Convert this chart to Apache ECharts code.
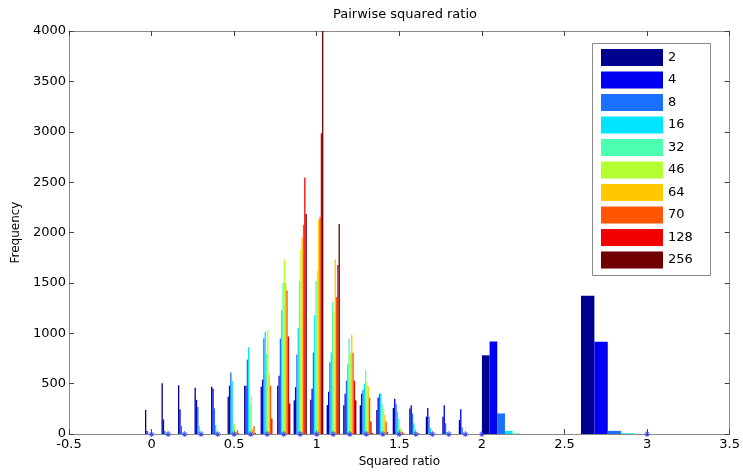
<!DOCTYPE html>
<html>
<head>
<meta charset="utf-8">
<script src="https://cdn.jsdelivr.net/npm/echarts@6/dist/echarts.min.js"></script>
<style>
html,body{margin:0;padding:0;background:#fff;}
#chart{width:743px;height:473px;}
</style>
</head>
<body>
<div id="chart"></div>
<script>
// Bin positions (squared ratio)
const bins = [0,0.1,0.2,0.3,0.4,0.5,0.6,0.7,0.8,0.9,1.0,1.1,1.2,1.3,1.4,1.5,1.6,1.7,1.8,1.9,2.0,2.6];
// Series names (legend)
const seriesNames = ['2','4','8','16','32','46','64','70','128','256'];
// Frequencies per series, one value per bin
const s2   = [240,505,485,460,470,370,480,470,480,335,340,290,286,286,240,260,254,173,173,140,782,1372];
const s4   = [30,145,245,340,450,480,480,540,580,466,450,420,400,400,362,350,286,260,286,247,919,916];
const s8   = [5,30,80,270,255,612,740,950,950,790,810,712,530,440,400,300,205,173,107,68,205,32];
const s16  = [0,5,10,80,90,527,862,1015,1230,1053,1180,810,693,500,405,224,107,59,15,10,32,8];
const s32  = [0,0,2,10,15,100,300,800,1500,1522,1520,1311,946,629,300,150,59,20,5,0,8,0];
const s46  = [0,0,0,0,2,107,383,1030,1734,1834,1620,1200,800,520,250,60,20,10,0,0,0,0];
const s64  = [0,0,0,0,0,20,50,600,1500,1950,2127,1734,985,472,189,49,10,5,0,0,0,0];
const s70  = [0,0,0,0,0,40,80,481,1424,2077,2156,1359,807,362,124,20,10,5,0,0,0,0];
const s128 = [0,0,0,0,0,5,10,156,969,2546,2985,1677,530,124,20,5,0,0,0,0,0,0];
const s256 = [0,0,0,0,0,0,0,0,303,2185,4000,2086,335,10,0,0,0,0,0,0,0,0];
// Marker positions on the baseline
const markerX = [0,0.1,0.2,0.3,0.4,0.5,0.6,0.7,0.8,0.9,1.0,1.1,1.2,1.3,1.4,1.5,1.6,1.7,1.8,1.9,2.0,3.0];
// Tick labels
const yTicks = [0,500,1000,1500,2000,2500,3000,3500,4000];
const xTicks = [-0.5,0,0.5,1,1.5,2,2.5,3,3.5];

const allSeries = [s2,s4,s8,s16,s32,s46,s64,s70,s128,s256];
const colors = ['#00008f','#0000f5','#1a70ff','#00e4ff','#4cffb0','#b4ff30','#ffc800','#ff5500','#f00000','#700000'];
const FONT = 'DejaVu Sans, Liberation Sans, sans-serif';

function renderBar(params, api) {
  const x = api.value(0), v = api.value(1);
  const i = params.seriesIndex;
  let left, w;
  if (x < 1.95) { w = 0.008; left = x - 0.04 + i * w; }
  else if (x < 2.3) { w = 0.0465; left = x + i * w; }
  else { w = 0.081; left = x + i * w; }
  const p0 = api.coord([left, v]);
  const p1 = api.coord([left + w, 0]);
  return {
    type: 'rect',
    shape: { x: p0[0], y: p0[1], width: p1[0] - p0[0], height: p1[1] - p0[1] },
    style: { fill: api.visual('color') }
  };
}

const series = allSeries.map((arr, i) => ({
  name: seriesNames[i],
  type: 'custom',
  renderItem: renderBar,
  itemStyle: { color: colors[i] },
  encode: { x: 0, y: 1 },
  clip: true,
  data: bins.map((b, k) => [b, arr[k]])
}));

series.push({
  name: 'markers',
  type: 'scatter',
  symbol: 'path://M8.5,0 L11.5,0 L11.5,20 L8.5,20 Z M0,8.5 L20,8.5 L20,11.5 L0,11.5 Z M2,4 L4,2 L18,16 L16,18 Z M16,2 L18,4 L4,18 L2,16 Z',
  symbolSize: 6,
  itemStyle: { color: '#2a2aff' },
  z: 5,
  clip: false,
  data: markerX.map(x => [x, 0])
});

const axisLineStyle = { color: '#8a8a8a', width: 1 };
const plain = v => String(v);
const chart = echarts.init(document.getElementById('chart'), null, { renderer: 'canvas' });
chart.setOption({
  animation: false,
  backgroundColor: '#fff',
  title: {
    text: 'Pairwise squared ratio',
    left: 400, top: 3, textAlign: 'center',
    textStyle: { fontFamily: FONT, fontSize: 13, fontWeight: 'normal', color: '#000' }
  },
  grid: { left: 69, right: 12, top: 31, bottom: 32, containLabel: false },
  legend: {
    orient: 'vertical',
    left: 601, top: 49,
    padding: 0,
    itemWidth: 62, itemHeight: 17, itemGap: 5.5,
    icon: 'rect',
    data: seriesNames,
    textStyle: { fontFamily: FONT, fontSize: 13, color: '#000' }
  },
  graphic: [{
    type: 'rect', z: 3,
    shape: { x: 592.5, y: 43.5, width: 118, height: 232 },
    style: { fill: '#fff', stroke: '#8a8a8a', lineWidth: 1 }
  }],
  xAxis: [{
    type: 'value', min: xTicks[0], max: xTicks[xTicks.length - 1], interval: 0.5,
    position: 'bottom',
    name: 'Squared ratio', nameLocation: 'middle', nameGap: 18,
    nameTextStyle: { fontFamily: FONT, fontSize: 12, color: '#000' },
    axisLine: { show: true, onZero: false, lineStyle: axisLineStyle },
    axisTick: { show: true, inside: true, length: 5, lineStyle: { color: '#444' } },
    axisLabel: { fontFamily: FONT, fontSize: 13, color: '#000', margin: 4, formatter: plain },
    splitLine: { show: false }
  }, {
    type: 'value', min: xTicks[0], max: xTicks[xTicks.length - 1], interval: 0.5,
    position: 'top',
    axisLine: { show: true, onZero: false, lineStyle: axisLineStyle },
    axisTick: { show: true, inside: true, length: 5, lineStyle: { color: '#444' } },
    axisLabel: { show: false },
    splitLine: { show: false }
  }],
  yAxis: [{
    type: 'value', min: yTicks[0], max: yTicks[yTicks.length - 1], interval: 500,
    position: 'left',
    name: 'Frequency', nameLocation: 'middle', nameGap: 44, nameRotate: 90,
    nameTextStyle: { fontFamily: FONT, fontSize: 12, color: '#000' },
    axisLine: { show: true, onZero: false, lineStyle: axisLineStyle },
    axisTick: { show: true, inside: true, length: 5, lineStyle: { color: '#444' } },
    axisLabel: { fontFamily: FONT, fontSize: 13, color: '#000', margin: 3, formatter: plain },
    splitLine: { show: false }
  }, {
    type: 'value', min: yTicks[0], max: yTicks[yTicks.length - 1], interval: 500,
    position: 'right',
    axisLine: { show: true, onZero: false, lineStyle: axisLineStyle },
    axisTick: { show: true, inside: true, length: 5, lineStyle: { color: '#444' } },
    axisLabel: { show: false },
    splitLine: { show: false }
  }],
  series: series
});
</script>
</body>
</html>
